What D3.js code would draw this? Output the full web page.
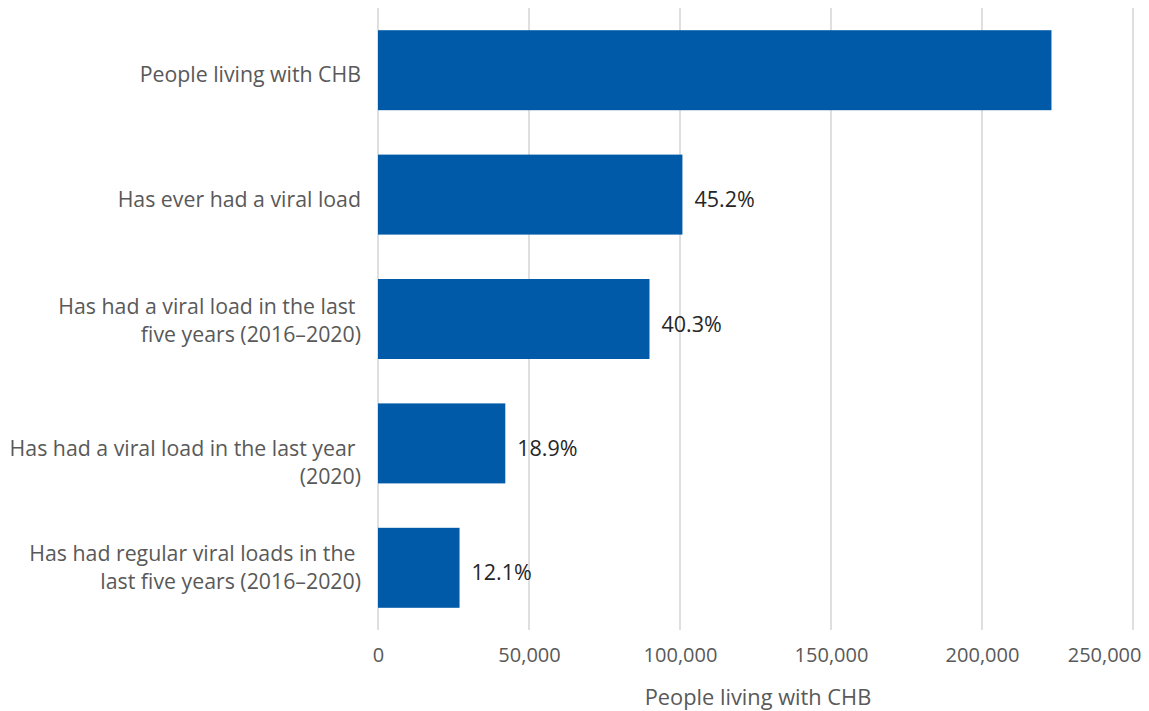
<!DOCTYPE html>
<html>
<head>
<meta charset="utf-8">
<script src="https://cdn.jsdelivr.net/npm/d3@7"></script>
<style>
  html, body { margin: 0; padding: 0; background: #fff; }
  text { font-family: "Open Sans", "Noto Sans", sans-serif; }
</style>
</head>
<body>
<svg id="chart" width="1149" height="711"></svg>
<script>
// Testing cascade for chronic hepatitis B (CHB)
const categories = [
  ["People living with CHB"],
  ["Has ever had a viral load"],
  ["Has had a viral load in the last ", "five years (2016\u20132020)"],
  ["Has had a viral load in the last year ", "(2020)"],
  ["Has had regular viral loads in the ", "last five years (2016\u20132020)"]
];
const people = [223000, 100800, 89900, 42150, 27000];
const shareLabels = ["", "45.2%", "40.3%", "18.9%", "12.1%"];
const tickValues = [0, 50000, 100000, 150000, 200000, 250000];
const axisTitle = "People living with CHB";

const svg = d3.select("#chart");
const plotLeft = 378, plotRight = 1133, plotTop = 8, plotBottom = 630;
// small vertical nudges of the category label blocks (px)
const labelNudge = [4.5, 4.5, 2, 19, 0];

const x = d3.scaleLinear().domain([0, 250000]).range([plotLeft, plotRight]);
const y = d3.scaleBand().domain(d3.range(categories.length))
  .range([plotTop, plotBottom]).paddingInner(0.357).paddingOuter(0.1785);

// vertical gridlines
svg.append("g").selectAll("line").data(tickValues).join("line")
  .attr("x1", d => x(d)).attr("x2", d => x(d))
  .attr("y1", plotTop).attr("y2", plotBottom)
  .attr("stroke", "#d4d4d4").attr("stroke-width", 1.5);

// bars
svg.append("g").selectAll("rect").data(people).join("rect")
  .attr("x", x(0)).attr("y", (d, i) => y(i))
  .attr("width", d => x(d) - x(0)).attr("height", y.bandwidth())
  .attr("fill", "#015aa8");

// percentage labels
svg.append("g").selectAll("text").data(people).join("text")
  .attr("x", d => x(d) + 12)
  .attr("y", (d, i) => y(i) + y.bandwidth() / 2 + 5)
  .attr("dy", "0.35em")
  .attr("font-size", 21.5)
  .attr("fill", "#262626")
  .text((d, i) => shareLabels[i]);

// category labels
const cat = svg.append("g").selectAll("text").data(categories).join("text")
  .attr("text-anchor", "end")
  .attr("font-size", 21.3)
  .attr("fill", "#595959")
  .style("white-space", "pre")
  .attr("transform", (d, i) => `translate(361,${y(i) + y.bandwidth() / 2 + labelNudge[i]})`);
cat.selectAll("tspan").data(d => d.map((t, j) => ({ t, j, n: d.length }))).join("tspan")
  .attr("x", 0)
  .attr("y", d => (d.j - (d.n - 1) / 2) * 28)
  .attr("dy", "0.35em")
  .text(d => d.t);

// x axis tick labels; the last one is pulled inside the right edge
const axis = d3.axisBottom(x).tickValues(tickValues)
  .tickFormat(d3.format(",")).tickSize(0).tickPadding(0);
const ag = svg.append("g").attr("transform", `translate(0,648)`).call(axis);
ag.select(".domain").remove();
ag.selectAll("text").attr("font-size", 20).attr("fill", "#595959")
  .attr("font-family", "'Open Sans', sans-serif");
ag.selectAll(".tick").filter(d => d === tickValues[tickValues.length - 1])
  .select("text").attr("text-anchor", "end").attr("dx", 8);

// axis title
svg.append("text")
  .attr("x", 758).attr("y", 697).attr("dy", "0.35em")
  .attr("text-anchor", "middle").attr("font-size", 21.8).attr("fill", "#595959")
  .text(axisTitle);
</script>
</body>
</html>
